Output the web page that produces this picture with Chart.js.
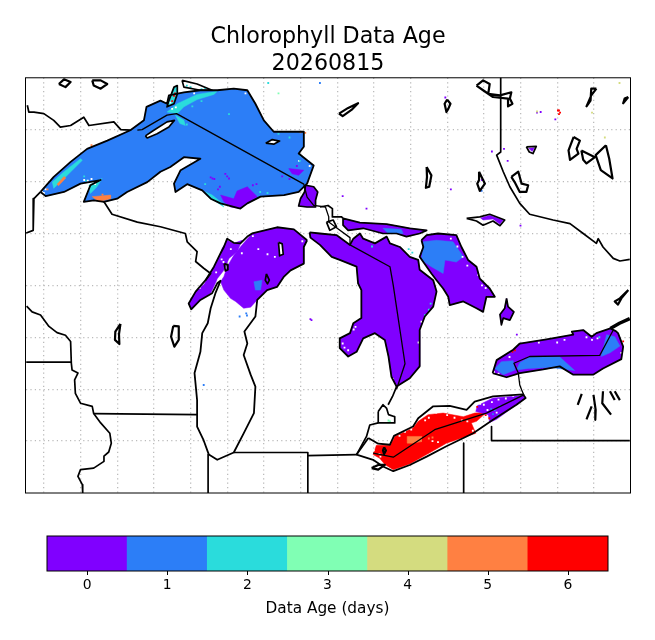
<!DOCTYPE html>
<html><head><meta charset="utf-8">
<script src="https://cdn.jsdelivr.net/npm/chart.js@4"></script>
<style>html,body{margin:0;padding:0;background:#fff}#w{position:relative;width:655px;height:640px}canvas{position:absolute}</style>
</head><body><div id="w"><canvas id="map"></canvas><canvas id="bar"></canvas></div>
<script>
// ---- values (longitude, latitude) ----
const titleLines = ["Chlorophyll Data Age", "20260815"];
const ageCategories = ["0","1","2","3","4","5","6"];
const ageBarValues = [1,1,1,1,1,1,1];
const ageAxisLabel = "Data Age (days)";

const superior = [[-92.09,46.8],[-91.73,47.09],[-91.27,47.38],[-90.82,47.63],[-90.27,47.79],[-89.64,47.99],[-89.27,48.18],[-89.2,48.44],[-88.82,48.56],[-88.64,48.5],[-88.59,48.66],[-88.18,48.72],[-87.73,48.76],[-87.27,48.76],[-86.82,48.79],[-86.45,48.76],[-86.23,48.5],[-86,48.18],[-85.73,47.96],[-84.91,47.96],[-84.91,47.67],[-85.05,47.54],[-84.64,47.31],[-84.82,46.96],[-85.05,46.8],[-85.45,46.74],[-86.09,46.71],[-86.45,46.58],[-86.64,46.48],[-87.18,46.58],[-87.45,46.67],[-87.68,46.83],[-88.09,46.95],[-88.41,46.8],[-88.45,46.96],[-88.27,47.22],[-87.73,47.44],[-88.18,47.47],[-88.55,47.28],[-88.82,47.19],[-89.18,46.99],[-89.73,46.8],[-90,46.67],[-90.36,46.61],[-90.64,46.64],[-90.91,46.61],[-90.73,46.93],[-90.45,47.03],[-91,46.96],[-91.45,46.8],[-91.95,46.72],[-92.09,46.8]];
const isleRoyale = [[-89.23,47.88],[-89,47.99],[-88.64,48.15],[-88.44,48.18],[-88.59,48.05],[-88.91,47.92],[-89.18,47.84],[-89.23,47.88]];
const michipicoten = [[-85.95,47.74],[-85.77,47.81],[-85.57,47.78],[-85.73,47.72],[-85.95,47.74]];
const whitefish = [[-84.86,46.93],[-84.64,46.9],[-84.53,46.8],[-84.59,46.64],[-84.59,46.51],[-84.82,46.51],[-85.05,46.53],[-85,46.67],[-84.89,46.8],[-84.86,46.93]];
const supCyanNorth = [[-88.64,48.34],[-88.36,48.5],[-87.82,48.68],[-87.27,48.74],[-87.36,48.68],[-87.82,48.58],[-88.18,48.44],[-88.36,48.31],[-88.64,48.34]];
const supCyanNorth2 = [[-88.41,48.28],[-88.18,48.18],[-88.14,48.08],[-88.29,48.12],[-88.41,48.28]];
const supCyanWest = [[-91.77,46.99],[-91.45,47.19],[-91,47.44],[-90.95,47.41],[-91.45,47.06],[-91.73,46.87],[-91.77,46.99]];
const supCyanBay = [[-90.77,46.93],[-90.41,47.06],[-90.55,46.9],[-90.73,46.77],[-90.77,46.93]];
const supCyanSouth = [[-87.59,46.8],[-87.36,46.64],[-87.09,46.51],[-87.18,46.61],[-87.41,46.74],[-87.59,46.8]];
const supOrangeBay = [[-90.68,46.71],[-90.18,46.74],[-90.18,46.67],[-90.5,46.61],[-90.68,46.71]];
const supOrangeWest = [[-91.64,46.95],[-91.45,47.1],[-91.4,47.07],[-91.6,46.92],[-91.64,46.95]];
const supPurpleSouth = [[-87.18,46.74],[-86.82,46.67],[-86.73,46.82],[-86.45,46.9],[-86.18,46.71],[-86.45,46.59],[-86.64,46.48],[-86.91,46.51],[-87.09,46.61],[-87.18,46.74]];
const supPurpleEast = [[-85.32,47.25],[-84.91,47.22],[-85.05,47.12],[-85.23,47.15],[-85.32,47.25]];
const nipigon = [[-88.59,48.56],[-88.45,48.82],[-88.36,48.85],[-88.36,48.69],[-88.45,48.5],[-88.64,48.44],[-88.59,48.56]];
const nipigonTop = [[-88.23,48.95],[-87.82,48.88],[-87.41,48.76],[-87.73,48.76],[-88.18,48.82],[-88.23,48.95]];

const michigan = [[-84.82,45.87],[-85.18,46.08],[-85.64,46.12],[-86.32,46],[-86.45,45.94],[-86.64,45.81],[-86.82,45.82],[-87,45.9],[-87.09,45.74],[-87.18,45.62],[-87.36,45.36],[-87.59,45.1],[-87.86,44.88],[-88.05,44.65],[-87.98,44.54],[-87.73,44.72],[-87.41,44.85],[-87.27,45.04],[-87.18,45.09],[-87.32,44.85],[-87.45,44.56],[-87.53,44.27],[-87.68,44.08],[-87.73,43.72],[-87.89,43.31],[-87.82,42.79],[-87.82,42.28],[-87.65,42.03],[-87.5,41.74],[-87.27,41.64],[-86.82,41.78],[-86.55,42.15],[-86.27,42.54],[-86.23,43.05],[-86.36,43.28],[-86.55,43.66],[-86.45,43.88],[-86.53,44.11],[-86.23,44.4],[-86.18,44.72],[-85.91,44.91],[-85.64,44.97],[-85.45,45.17],[-85.27,45.29],[-84.91,45.42],[-84.91,45.74],[-84.82,45.87]];
const michPurple = [[-86.32,46],[-85.64,46.12],[-85.18,46.08],[-84.82,45.87],[-84.91,45.74],[-84.91,45.42],[-85.27,45.29],[-85.45,45.17],[-85.64,44.97],[-85.91,44.91],[-86.18,44.72],[-86.36,44.58],[-86.55,44.56],[-86.77,44.69],[-86.91,44.75],[-87.09,44.91],[-87.18,45.07],[-87.09,45.17],[-87,45.36],[-86.82,45.58],[-86.64,45.74],[-86.45,45.9],[-86.32,46]];
const michBlue = [[-86.27,45.07],[-86.05,45.1],[-86.09,44.91],[-86.23,44.91],[-86.27,45.07]];
const greenBay = [[-87.14,45.71],[-87,45.87],[-86.82,45.81],[-86.59,45.87],[-86.73,45.65],[-86.95,45.52],[-87.09,45.29],[-87.27,45.13],[-87.32,45.04],[-87.45,44.85],[-87.73,44.72],[-87.98,44.54],[-88.05,44.65],[-87.86,44.88],[-87.64,45.01],[-87.36,45.36],[-87.18,45.62],[-87.14,45.71]];
const beaverIsland = [[-85.6,45.83],[-85.5,45.8],[-85.47,45.6],[-85.57,45.57],[-85.6,45.83]];
const gullIsland = [[-87.08,45.42],[-87,45.4],[-86.98,45.3],[-87.05,45.28],[-87.08,45.42]];
const southFox = [[-85.93,45.22],[-85.85,45.1],[-85.9,45.03],[-85.96,45.1],[-85.93,45.22]];

const huron = [[-84.75,46.02],[-84.47,46],[-84.02,45.97],[-83.65,45.78],[-83.56,45.9],[-83.38,46],[-83.29,45.9],[-82.97,45.81],[-82.65,45.94],[-82.56,45.81],[-82.29,45.74],[-82.02,45.55],[-81.79,45.49],[-81.75,45.3],[-81.38,45.1],[-81.29,44.88],[-81.38,44.59],[-81.61,44.4],[-81.75,44.14],[-81.75,43.44],[-82.02,43.21],[-82.38,43.05],[-82.52,43.24],[-82.6,43.63],[-82.7,43.95],[-82.97,44.08],[-83.29,43.98],[-83.47,43.72],[-83.7,43.63],[-83.93,43.79],[-83.93,43.98],[-83.65,44.08],[-83.56,44.27],[-83.34,44.37],[-83.34,44.91],[-83.43,45.04],[-83.47,45.36],[-83.93,45.49],[-84.15,45.55],[-84.47,45.78],[-84.73,45.92],[-84.75,46.02]];
const georgian = [[-81.7,45.87],[-81.56,45.97],[-81.25,46],[-80.75,45.97],[-80.61,45.74],[-80.43,45.49],[-80.2,45.36],[-80.11,45.13],[-79.84,44.94],[-79.7,44.78],[-79.93,44.78],[-80.02,44.49],[-80.2,44.56],[-80.56,44.69],[-80.93,44.62],[-80.97,44.78],[-81.11,44.94],[-81.29,45.1],[-81.43,45.23],[-81.75,45.55],[-81.65,45.74],[-81.7,45.87]];
const georgianBlue = [[-81.65,45.84],[-81.29,45.87],[-80.84,45.84],[-80.56,45.55],[-80.75,45.45],[-81.06,45.49],[-81.11,45.23],[-81.43,45.36],[-81.7,45.49],[-81.65,45.84]];
const northChannel = [[-83.84,46.29],[-83.38,46.21],[-82.65,46.18],[-82.02,46.1],[-81.56,46.06],[-81.75,46],[-82.11,45.94],[-82.38,46],[-82.75,46],[-83.29,46.1],[-83.7,46.06],[-83.84,46.16],[-83.84,46.29]];
const northChannelBlue = [[-82.75,46.1],[-82.25,46.08],[-82.2,46],[-82.61,46],[-82.75,46.1]];
const drummond = [[-84.29,46.22],[-84.11,46.26],[-84.02,46.13],[-84.2,46.06],[-84.29,46.22]];

const erie = [[-83.15,42.06],[-82.88,41.95],[-82.56,41.93],[-82.45,42.1],[-81.93,42.28],[-81.79,42.44],[-81.38,42.67],[-80.93,42.68],[-80.47,42.6],[-80.25,42.76],[-79.75,42.86],[-78.93,42.9],[-78.86,42.83],[-79.11,42.7],[-79.75,42.41],[-80.29,42.15],[-81.02,41.9],[-81.56,41.7],[-82.02,41.54],[-82.47,41.42],[-82.75,41.51],[-83.02,41.64],[-83.47,41.74],[-83.25,41.96],[-83.15,42.06]];
const erieRed = [[-82.93,41.92],[-82.55,41.92],[-82.43,42.09],[-81.93,42.25],[-81.79,42.38],[-81.52,42.51],[-81.11,42.54],[-80.56,42.47],[-80.25,42.54],[-79.93,42.55],[-80.2,42.38],[-80.34,42.35],[-80.22,42.15],[-80.6,42.06],[-81.02,41.96],[-81.56,41.74],[-82.02,41.56],[-82.47,41.45],[-82.7,41.55],[-82.84,41.67],[-83.02,41.74],[-82.93,41.92]];
const erieOrange = [[-82.09,42.09],[-81.7,42.09],[-81.7,41.99],[-81.95,41.96],[-82.09,41.96],[-82.09,42.09]];
const eriePurple = [[-80.18,42.68],[-79.75,42.83],[-78.93,42.88],[-78.87,42.82],[-79.11,42.7],[-79.65,42.42],[-79.84,42.36],[-79.88,42.51],[-80.11,42.55],[-80.22,42.57],[-80.18,42.68]];

const ontario = [[-79.76,43.31],[-79.65,43.56],[-79.2,43.76],[-79.02,43.88],[-78.29,43.96],[-77.56,44.05],[-77.6,44.11],[-77.29,44.14],[-77.06,44.01],[-76.93,44.08],[-76.55,44.17],[-76.4,44.12],[-76.34,44.08],[-76.2,43.82],[-76.25,43.58],[-76.75,43.4],[-77.02,43.28],[-77.56,43.28],[-77.93,43.44],[-78.38,43.38],[-79.02,43.31],[-79.38,43.23],[-79.76,43.31]];
const stLawrence = [[-76.55,44.17],[-76.3,44.27],[-76.02,44.36]];
const ontarioBlueMid = [[-79.02,43.51],[-78.75,43.62],[-77.93,43.62],[-77.52,43.36],[-78.2,43.42],[-78.79,43.4],[-79.11,43.37],[-79.02,43.51]];
const ontarioBlueWest = [[-79.7,43.4],[-79.52,43.53],[-79.2,43.55],[-79.15,43.37],[-79.47,43.28],[-79.7,43.4]];
const ontarioBlueEast = [[-76.65,44.05],[-76.43,44.01],[-76.29,43.83],[-76.56,43.7],[-76.8,43.63],[-76.65,44.05]];
const simcoe = [[-79.38,44.75],[-79.34,44.59],[-79.18,44.49],[-79.29,44.33],[-79.47,44.37],[-79.52,44.24],[-79.56,44.44],[-79.43,44.56],[-79.38,44.75]];
const nipissing = [[-80.47,46.29],[-80.11,46.32],[-79.84,46.37],[-79.43,46.26],[-79.56,46.15],[-79.75,46.24],[-80.02,46.16],[-80.2,46.24],[-80.47,46.29]];
const nipissingFill = [[-80.09,46.3],[-79.84,46.35],[-79.47,46.26],[-79.56,46.18],[-79.75,46.28],[-80.02,46.26],[-80.09,46.3]];
const timiskamingRing = [[-78.84,47.67],[-78.57,47.68],[-78.66,47.54],[-78.76,47.57],[-78.84,47.67]];
const timiskamingFill = [[-78.78,47.64],[-78.62,47.65],[-78.68,47.58],[-78.78,47.64]];
const stClair = [[-82.88,42.57],[-82.75,42.7],[-82.65,42.63],[-82.6,42.51],[-82.43,42.47],[-82.43,42.35],[-82.88,42.35],[-82.88,42.57]];

const lakesOther = [
 [[-89.91,44.26],[-90.05,44.11],[-90.06,43.95],[-89.94,43.87],[-89.95,44.06],[-89.91,44.26]],
 [[-88.47,44.22],[-88.32,44.21],[-88.32,43.95],[-88.44,43.82],[-88.53,44.01],[-88.47,44.22]],
 [[-91.59,48.88],[-91.45,48.97],[-91.27,48.92],[-91.41,48.82],[-91.59,48.88]],
 [[-90.68,48.95],[-90.45,48.95],[-90.27,48.88],[-90.45,48.79],[-90.64,48.85],[-90.68,48.95]],
 [[-83.95,48.31],[-83.7,48.42],[-83.43,48.51],[-83.61,48.38],[-83.85,48.26],[-83.95,48.31]],
 [[-81,48.58],[-80.91,48.5],[-80.97,48.4],[-81.02,48.34],[-81.07,48.5],[-81,48.58]],
 [[-80.2,48.85],[-80.02,48.95],[-79.84,48.88],[-79.88,48.69],[-79.56,48.66],[-79.25,48.72],[-79.29,48.6],[-79.22,48.5],[-79.34,48.45],[-79.34,48.6],[-79.75,48.63],[-80.02,48.76],[-80.2,48.85]],
 [[-79.25,47.09],[-79.06,47.19],[-78.97,46.96],[-78.79,46.93],[-78.84,46.8],[-79.02,46.8],[-79.16,46.99],[-79.25,47.09]],
 [[-81.56,47.28],[-81.43,47.12],[-81.49,46.9],[-81.58,46.88],[-81.55,47.09],[-81.56,47.28]],
 [[-80.13,47.19],[-79.97,46.96],[-80.11,46.82],[-80.18,46.96],[-80.13,47.03],[-80.13,47.19]],
 [[-77.55,47.86],[-77.38,47.79],[-77.47,47.63],[-77.42,47.54],[-77.65,47.42],[-77.69,47.6],[-77.55,47.86]],
 [[-77.34,47.6],[-76.97,47.47],[-77.2,47.35],[-77.29,47.42],[-77.34,47.6]],
 [[-76.67,47.7],[-76.95,47.51],[-76.81,47.22],[-76.49,47.06],[-76.58,47.44],[-76.67,47.7]],
 [[-76.93,48.79],[-77.07,48.66],[-77.2,48.45],[-77.09,48.56],[-77.07,48.79],[-76.93,48.79]],
 [[-76.06,48.63],[-76.2,48.51],[-76.16,48.6],[-76.06,48.63]],
 [[-76.06,44.91],[-76.29,44.75],[-76.43,44.69],[-76.34,44.63],[-76.25,44.75],[-76.06,44.91]],
 [[-77.33,42.91],[-77.44,42.7]],[[-77.01,42.89],[-76.95,42.6],[-76.96,42.41]],[[-77.2,42.42],[-77.06,42.67]],
 [[-76.75,42.96],[-76.77,42.73],[-76.53,42.51]],[[-76.56,42.96],[-76.43,42.79]],[[-76.43,42.96],[-76.29,42.79]],
 [[-83.06,41.48],[-82.88,41.54],[-82.7,41.54],[-82.88,41.45],[-83.06,41.48]],
 [[-82.72,41.88],[-82.67,41.82],[-82.72,41.75],[-82.75,41.82],[-82.72,41.88]]
];

const borderMnOn = [[-89.64,47.99],[-89.9,48],[-90.09,48.15],[-90.77,48.08],[-90.91,48.24],[-91.27,48.08],[-91.55,48.05],[-91.73,48.18],[-92,48.31],[-92.27,48.34],[-92.41,48.34],[-92.45,48.47]];
const borderMnWi = [[-92.09,46.8],[-92.27,46.67],[-92.29,46.06],[-92.48,46.01]];
const borderWiMi = [[-90.36,46.61],[-90.14,46.37],[-89.45,46.22],[-88.82,46.13],[-88.14,46],[-88.09,45.84],[-87.82,45.65],[-87.86,45.46],[-87.64,45.33],[-87.45,45.23],[-87.59,45.1]];
const borderSuperior = [[-89.45,47.99],[-89.32,48],[-88.64,48.28],[-88.38,48.31],[-84.91,46.95],[-84.82,46.7],[-84.64,46.54],[-84.32,46.51],[-84.23,46.32]];
const borderSault = [[-84.47,46.51],[-84.25,46.54],[-84.13,46.48],[-84.13,46.32],[-83.88,46.32],[-83.84,46.29]];
const borderHuron = [[-84.23,46.32],[-84.23,46.22],[-84,46.1],[-83.65,45.92],[-83.65,45.78],[-82.56,45.36],[-82.47,45],[-82.15,43.49],[-82.38,43]];
const riverDetroit = [[-82.38,43.05],[-82.49,42.86],[-82.61,42.7]];
const riverDetroit2 = [[-82.88,42.35],[-83.11,42.31],[-83.2,42.09],[-83.47,41.74]];
const borderErie = [[-83.02,41.77],[-82.47,41.69],[-81.34,42.22],[-79.93,42.54],[-78.91,42.89],[-78.97,42.99],[-79.02,43.08],[-79.06,43.31],[-79.18,43.5],[-78.75,43.63],[-76.84,43.65],[-76.47,44.14]];
const borderNyPa = [[-79.79,42.28],[-79.79,42.01],[-76.02,42.01]];
const borderPaOh = [[-80.55,41.96],[-80.55,41]];
const borderOhMi = [[-84.82,41.72],[-83.47,41.74]];
const borderInMi = [[-86.82,41.78],[-84.8,41.78],[-84.8,41]];
const borderIlIn = [[-87.52,41.74],[-87.52,41]];
const borderWiIl = [[-90.64,42.53],[-87.82,42.51]];
const borderMnIa = [[-92.48,43.52],[-91.25,43.52]];
const mississippi = [[-92.47,44.6],[-92.32,44.49],[-92.09,44.43],[-91.86,44.21],[-91.64,44.09],[-91.41,44.04],[-91.27,43.92],[-91.25,43.5],[-91.23,43.37],[-91.07,43.31],[-91.16,43.18],[-91.14,42.92],[-91,42.73],[-90.68,42.67],[-90.64,42.53],[-90.45,42.35],[-90.2,42.15],[-90.16,41.96],[-90.23,41.79],[-90.36,41.71],[-90.36,41.61],[-90.64,41.48],[-91,41.45],[-91.07,41.32],[-90.95,41.16],[-90.94,41]];
const borderQcOn = [[-79.54,49],[-79.54,47.57],[-79.65,47.51],[-79.47,47.19],[-79.29,46.9],[-79.02,46.58],[-78.75,46.37],[-78.11,46.26],[-77.65,46.19],[-77.29,46],[-76.93,45.81],[-76.88,45.9],[-76.75,45.74],[-76.47,45.52],[-76.29,45.47],[-76.02,45.5]];

const specksPurple = [[-87.05,47.15],[-87,47.1],[-86.95,47.06],[-87.45,47.08],[-87.4,47.06],[-87.35,47.05],[-84.73,44.35],[-84.7,44.33],[-81.05,48.62],[-80.05,47.03],[-80.9,46.85],[-79.78,47.58],[-79.45,47.63],[-79.35,47.4],[-80.08,46.83],[-78.55,48.33],[-78.45,48.34],[-78.05,48.2],[-85.5,47.1],[-85.3,47.05],[-85.1,47.3],[-86.2,46.95],[-86.3,46.93],[-87.2,46.9],[-87.25,46.85],[-83.85,46.72],[-83.2,46.48],[-79.1,44.05],[-79.0,46.15]];
const specksBlue = [[-86.66,44.4],[-86.48,44.46],[-86.46,44.42],[-87.64,43.08],[-80.06,46.82],[-84.47,48.9],[-79.75,42.52],[-79.7,42.6],[-79.8,42.62],[-79.6,42.5],[-79.55,42.68]];
const specksCyan = [[-88.1,48.1],[-87.95,48.45],[-87.7,48.55],[-86.95,48.3],[-85.6,47.92],[-85.3,47.85],[-85,47.5],[-85.02,47.4],[-86.1,46.8],[-85.9,46.78],[-87.6,46.95],[-90.9,47.1],[-90.85,47.02],[-83.05,45.75],[-82.05,45.7],[-81.95,45.63],[-81.45,44.65],[-81.5,44.53],[-81.6,44.43],[-76.85,44.0],[-85.88,48.9],[-88.1,48.85],[-88.0,48.82],[-87.7,48.78],[-87.6,48.8]];
const specksWhite = [[-92.05,46.8],[-92,46.78],[-91.95,46.85],[-90.9,47.03],[-90.8,47.02],[-90.7,47.05],[-90.6,46.95],[-88.55,48.52],[-88.5,48.4],[-88.4,48.43],[-87.9,48.7],[-86.5,48.7],[-85.04,47.4],[-84.75,47.3],[-86.3,45.95],[-86.9,45.7],[-86.6,45.62],[-87.1,45.45],[-87.15,45.5],[-87.3,45.25],[-87.65,45.05],[-87.75,44.95],[-86.15,45.7],[-85.9,45.6],[-85.7,45.55],[-84.95,45.85],[-83.5,44.2],[-83.55,44.15],[-83.85,43.88],[-83.8,43.8],[-83.7,43.75],[-81.7,44.3],[-82.48,43.2],[-81.78,43.9],[-80.9,45.9],[-80.72,45.75],[-80.58,45.55],[-80.45,45.38],[-80.15,45.2],[-79.95,44.95],[-80.05,45.0],[-82.2,45.75],[-82.1,45.7],[-79.6,42.8],[-79.4,42.82],[-79.2,42.87],[-80.1,42.72],[-80.0,42.7],[-79.9,42.6],[-79.78,42.75],[-79.65,42.55],[-82.5,42.03],[-82.3,42.1],[-82.15,42.18],[-81.98,42.22],[-81.6,42.4],[-81.5,42.45],[-81.3,42.55],[-81.0,42.5],[-80.8,42.45],[-80.6,42.4],[-80.45,42.38],[-80.3,42.2],[-81.4,42.0],[-81.25,41.98],[-82.85,41.75],[-82.82,41.7],[-83.0,41.82],[-78.5,43.9],[-78.0,43.9],[-77.8,43.95],[-77.2,44],[-77.05,43.95],[-76.9,43.98],[-79.3,43.62],[-79.6,43.3],[-79.72,43.33],[-76.25,43.7]];
const specksOrange = [[-91.9,46.85],[-90.4,46.75],[-90.2,46.7],[-81.5,42.05],[-81.4,42.07],[-90.7,47.7],[-85.0,47.95],[-84.87,47.94]];
const specksRed = [[-88.42,48.7],[-88.45,48.65],[-88.5,48.55],[-77.95,48.37],[-77.92,48.33],[-77.95,48.3],[-77.98,48.37],[-79.95,42.5],[-79.85,42.44],[-80.18,42.66],[-79.22,43.72],[-79.15,43.75],[-76.2,43.92]];
const specksYellow = [[-78.55,48.35],[-76.3,48.9],[-77.05,48.33],[-76.7,47.85]];
const specksMint = [[-82.6,42.4],[-82.56,42.38],[-82.6,42.36],[-85.6,48.7]];

// ---- styling and building ----
const PURPLE="#8000ff",BLUE="#2c7ef7",CYAN="#2adcdc",MINT="#80ffb4",OLIVE="#d4dc7f",ORANGE="#ff8042",RED="#ff0000";
const ageColours=[PURPLE,BLUE,CYAN,MINT,OLIVE,ORANGE,RED];
const toPts=a=>a.map(p=>({x:p[0],y:p[1]}));
const layers=[];
const fillShape=(a,c)=>layers.push({data:toPts(a),showLine:true,tension:0,fill:'shape',backgroundColor:c,borderColor:c,borderWidth:0.5,pointRadius:0});
const line=(a,w)=>layers.push({data:toPts(a),showLine:true,tension:0,fill:false,borderColor:'#000',borderWidth:w,pointRadius:0,borderJoinStyle:'round'});
const specks=(a,c)=>layers.push({data:toPts(a),showLine:false,backgroundColor:c,borderWidth:0,pointStyle:'rect',pointRadius:1.3});

fillShape(superior,BLUE);fillShape(whitefish,PURPLE);
[supCyanNorth,supCyanNorth2,supCyanWest,supCyanBay,supCyanSouth].forEach(a=>fillShape(a,CYAN));
[supOrangeBay,supOrangeWest].forEach(a=>fillShape(a,ORANGE));
[supPurpleSouth,supPurpleEast].forEach(a=>fillShape(a,PURPLE));
fillShape(nipigon,CYAN);
fillShape(michPurple,PURPLE);fillShape(michBlue,BLUE);fillShape(greenBay,PURPLE);
fillShape(huron,PURPLE);fillShape(georgian,PURPLE);fillShape(georgianBlue,BLUE);
fillShape(northChannel,PURPLE);fillShape(northChannelBlue,BLUE);
fillShape(erieRed,RED);fillShape(erieOrange,ORANGE);fillShape(eriePurple,PURPLE);
fillShape(ontario,PURPLE);[ontarioBlueMid,ontarioBlueWest,ontarioBlueEast].forEach(a=>fillShape(a,BLUE));
fillShape(simcoe,PURPLE);fillShape(nipissingFill,PURPLE);fillShape(timiskamingFill,PURPLE);
[isleRoyale,michipicoten,beaverIsland].forEach(a=>fillShape(a,'#ffffff'));
specks(specksWhite,'#ffffff');specks(specksPurple,PURPLE);specks(specksBlue,BLUE);specks(specksCyan,CYAN);specks(specksOrange,ORANGE);specks(specksRed,RED);specks(specksYellow,OLIVE);specks(specksMint,MINT);
[superior,michigan,huron,georgian,erie,ontario].forEach(a=>line(a,1.8));
[isleRoyale,michipicoten,whitefish,nipigon,nipigonTop,northChannel,beaverIsland,gullIsland,southFox,drummond,simcoe,nipissing,timiskamingRing,stClair].forEach(a=>line(a,1.7));
lakesOther.forEach(a=>line(a,2.2));
line(stLawrence,3.5);
[borderMnOn,borderMnWi,borderWiMi,borderSault,riverDetroit,riverDetroit2,borderNyPa,borderPaOh,borderOhMi,borderInMi,borderIlIn,borderWiIl,borderMnIa,mississippi,borderQcOn].forEach(a=>line(a,1.7));
[borderSuperior,borderHuron,borderErie].forEach(a=>line(a,1.3));
layers.forEach((d,i)=>d.order=-i);

const frame={id:'frame',afterDraw(c){const a=c.chartArea,x=c.ctx;x.save();x.strokeStyle='#000';x.lineWidth=1;x.strokeRect(a.left,a.top,a.width,a.height);x.restore();}};
const axisTicks={id:'axisTicks',afterDraw(c){const s=c.scales.x,x=c.ctx,b=c.chartArea.bottom;x.save();x.strokeStyle='#000';x.lineWidth=1;s.ticks.forEach((t,i)=>{const p=Math.round(s.getPixelForTick(i))+0.5;x.beginPath();x.moveTo(p,b);x.lineTo(p,b+4);x.stroke();});x.restore();}};
Chart.defaults.font.family='"DejaVu Sans"';
Chart.defaults.color='#000';
const mapC=document.getElementById('map');mapC.style.cssText='left:0;top:0;width:655px;height:640px';mapC.width=655;mapC.height=640;
new Chart(mapC,{type:'scatter',data:{datasets:layers},plugins:[frame],options:{
 responsive:false,animation:false,devicePixelRatio:1,
 layout:{padding:{left:25.5,right:24.5,top:24,bottom:147}},
 plugins:{legend:{display:false},tooltip:{enabled:false},
  title:{display:true,text:titleLines,font:{size:22.2,weight:'normal',lineHeight:1.2},color:'#000',padding:{top:0,bottom:0.5}}},
 scales:{
  x:{type:'linear',min:-92.5,max:-76,afterBuildTicks(s){s.ticks=[];for(let v=-92;v<=-77;v++)s.ticks.push({value:v});},ticks:{display:false},border:{display:false,dash:[1.2,3.2]},grid:{color:'#bbbbbb',lineWidth:1.3,drawTicks:false}},
  y:{type:'linear',min:41,max:49,afterBuildTicks(s){s.ticks=[];for(let v=42;v<=48;v++)s.ticks.push({value:v});},ticks:{display:false},border:{display:false,dash:[1.2,3.2]},grid:{color:'#bbbbbb',lineWidth:1.3,drawTicks:false}}
 }}});

const barC=document.getElementById('bar');barC.style.cssText='left:0;top:525px;width:655px;height:115px';barC.width=655;barC.height=115;
new Chart(barC,{type:'bar',data:{labels:ageCategories,datasets:[{data:ageBarValues,backgroundColor:ageColours,borderWidth:0,barPercentage:1,categoryPercentage:1}]},plugins:[frame,axisTicks],options:{
 responsive:false,animation:false,devicePixelRatio:1,
 layout:{padding:{left:47,right:47,top:11,bottom:0}},
 plugins:{legend:{display:false},tooltip:{enabled:false}},
 scales:{
  x:{offset:true,afterFit(s){s.height=69;},grid:{display:false,drawTicks:true,tickLength:4},border:{display:false},ticks:{font:{size:13.9},color:'#000',padding:2,maxRotation:0},title:{display:true,text:ageAxisLabel,font:{size:15.3},color:'#000',padding:{top:0,bottom:22}}},
  y:{display:false,min:0,max:1}
 }}});
</script></body></html>
